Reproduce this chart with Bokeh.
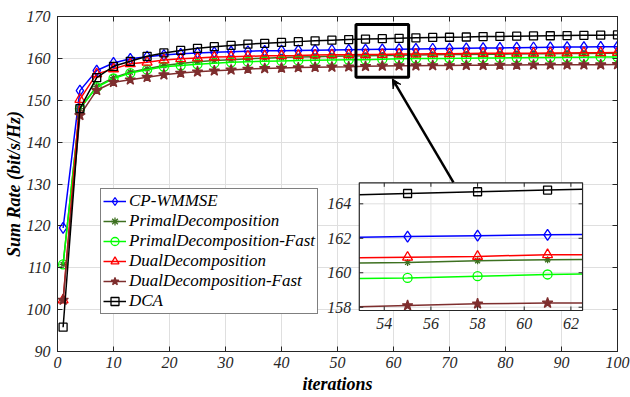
import numpy as np
from bokeh.plotting import figure
from bokeh.models import (Range1d, LinearAxis, Legend, LegendItem, Arrow, VeeHead,
                          FixedTicker)
from bokeh.core.properties import value
from bokeh.embed import file_html
from bokeh.resources import INLINE

# ---------------- data ----------------
iterations = list(range(1, 101, 3))

cp_wmmse = [119.5, 152.3, 157.1, 158.9, 159.9, 160.4, 160.8, 161.1, 161.3, 161.45,
            161.6, 161.7, 161.8, 161.85, 161.9, 161.95, 162.0, 162.05, 162.1, 162.15,
            162.2, 162.25, 162.3, 162.35, 162.4, 162.45, 162.5, 162.55, 162.6, 162.65,
            162.7, 162.7, 162.75, 162.8]
primal = [110.8, 148.0, 153.3, 155.4, 156.7, 157.5, 158.3, 158.8, 159.2, 159.5,
          159.7, 159.9, 160.05, 160.2, 160.3, 160.4, 160.5, 160.55, 160.6, 160.7,
          160.75, 160.8, 160.85, 160.9, 160.95, 161.0, 161.0, 161.05, 161.1, 161.1,
          161.15, 161.15, 161.2, 161.2]
primal_fast = [110.8, 148.0, 153.1, 155.2, 156.5, 157.3, 158.0, 158.3, 158.6, 158.85,
               159.05, 159.2, 159.3, 159.4, 159.5, 159.55, 159.6, 159.65, 159.7, 159.8,
               159.9, 159.95, 160.0, 160.0, 160.05, 160.1, 160.1, 160.15, 160.2, 160.2,
               160.25, 160.25, 160.3, 160.3]
dual = [102.3, 150.2, 156.3, 157.5, 158.7, 159.1, 159.6, 159.9, 160.1, 160.3,
        160.4, 160.5, 160.6, 160.65, 160.7, 160.8, 160.85, 160.85, 160.9, 160.95,
        161.05, 161.05, 161.1, 161.1, 161.15, 161.2, 161.2, 161.25, 161.25, 161.3,
        161.3, 161.35, 161.35, 161.4]
dual_fast = [102.3, 146.4, 152.4, 154.3, 154.9, 155.5, 156.1, 156.5, 156.8, 157.05,
             157.25, 157.45, 157.6, 157.7, 157.8, 157.9, 157.95, 158.0, 158.1, 158.2,
             158.25, 158.25, 158.3, 158.3, 158.35, 158.35, 158.4, 158.4, 158.45, 158.45,
             158.5, 158.5, 158.5, 158.55]
dca = [95.8, 148.0, 155.4, 158.1, 159.3, 160.5, 161.3, 161.9, 162.4, 162.8,
       163.1, 163.4, 163.6, 163.8, 164.0, 164.2, 164.35, 164.5, 164.6, 164.7,
       164.8, 164.9, 165.0, 165.05, 165.1, 165.2, 165.25, 165.3, 165.35, 165.4,
       165.45, 165.5, 165.55, 165.6]

series_names = ["CP-WMMSE", "PrimalDecomposition", "PrimalDecomposition-Fast",
                "DualDecomposition", "DualDecomposition-Fast", "DCA"]
series_values = [cp_wmmse, primal, primal_fast, dual, dual_fast, dca]

x_ticks = [0, 10, 20, 30, 40, 50, 60, 70, 80, 90, 100]
y_ticks = [90, 100, 110, 120, 130, 140, 150, 160, 170]
inset_x_ticks = [54, 56, 58, 60, 62]
inset_x_labels = ["54", "56", "58", "60", "62"]
inset_y_ticks = [158, 160, 162, 164]
inset_y_labels = ["158", "160", "162", "164"]

# ---------------- styles ----------------
colors = ["#0000ff", "#3d7020", "#00ff00", "#ff0000", "#7e2e2e", "#000000"]
markers = ["diamond", "asterisk", "circle", "triangle", "star", "square"]
msizes = [11, 7, 9, 10, 11, 8]
filled = [False, False, False, False, True, False]

FONT = "Liberation Serif"
AX = "#262626"
GRID = "#dfdfdf"

W, H = 630, 397
BL, BR, BT, BB = 56, 13, 16, 46
FRAME_W, FRAME_H = W - BL - BR, H - BT - BB
p = figure(width=W, height=H,
           x_range=Range1d(0, 100), y_range=Range1d(90, 170),
           output_backend="svg", toolbar_location=None,
           min_border_left=BL, min_border_right=BR, min_border_top=BT, min_border_bottom=BB)
p.background_fill_color = "white"
p.border_fill_color = "white"
p.outline_line_color = AX
p.outline_line_width = 1

for ax in (p.xaxis[0], p.yaxis[0]):
    ax.major_tick_in = 5
    ax.major_tick_out = 0
    ax.minor_tick_line_color = None
    ax.axis_line_color = AX
    ax.major_tick_line_color = AX
    ax.major_label_text_font = FONT
    ax.major_label_text_font_style = "italic"
    ax.major_label_text_font_size = "16px"
    ax.major_label_text_color = "#262626"
    ax.axis_label_text_font = FONT
    ax.axis_label_text_font_style = "bold italic"
    ax.axis_label_text_font_size = "18px"
    ax.axis_label_text_color = "#000000"

p.xaxis[0].ticker = FixedTicker(ticks=x_ticks)
p.yaxis[0].ticker = FixedTicker(ticks=y_ticks)
p.xaxis[0].axis_label = "iterations"
p.yaxis[0].axis_label = "Sum Rate (bit/s/Hz)"
p.xaxis[0].major_label_standoff = 5
p.xaxis[0].axis_label_standoff = 3
p.yaxis[0].major_label_standoff = 7
p.yaxis[0].axis_label_standoff = 0

# box-style ticks on top and right
for loc, tk in (("above", x_ticks), ("right", y_ticks)):
    a = LinearAxis(ticker=FixedTicker(ticks=tk), major_tick_in=5, major_tick_out=0,
                   minor_tick_line_color=None, axis_line_color=AX,
                   major_tick_line_color=AX, major_label_text_alpha=0,
                   major_label_text_font_size="1px", major_label_standoff=0)
    p.add_layout(a, loc)

p.grid.grid_line_color = GRID
p.grid.grid_line_width = 1
p.xgrid.ticker = FixedTicker(ticks=x_ticks)
p.ygrid.ticker = FixedTicker(ticks=y_ticks)

# ---------------- main series ----------------
legend_items = []
for name, vals, c, m, s, f in zip(series_names, series_values, colors, markers, msizes, filled):
    lr = p.line(iterations, vals, line_color=c, line_width=1.5)
    sr = p.scatter(iterations, vals, marker=m, size=s, line_color=c, line_width=1.3,
                   fill_color=c if f else None)
    legend_items.append(LegendItem(label=name, renderers=[lr, sr]))

# zoom box (annotation)
ZB = (53.3, 62.7, 155.5, 168.1)
p.quad(left=[ZB[0]], right=[ZB[1]], bottom=[ZB[2]], top=[ZB[3]],
       fill_color=None, line_color="black", line_width=3)

# ---------------- inset (drawn on extra ranges) ----------------
IX0, IX1 = 52.93, 62.5        # inset data window
IY0, IY1 = 157.81, 165.22
FL, FR = 0.5389, 0.9376       # inset position as fraction of main frame (from left)
FB, FT = 0.1224, 0.5036       # (from bottom)
ux = (IX1 - IX0) / (FR - FL)
uy = (IY1 - IY0) / (FT - FB)
p.extra_x_ranges = {"ix": Range1d(IX0 - FL * ux, IX1 + (1 - FR) * ux)}
p.extra_y_ranges = {"iy": Range1d(IY0 - FB * uy, IY1 + (1 - FT) * uy)}
kw = dict(x_range_name="ix", y_range_name="iy")
px_x = ux / FRAME_W   # data units per pixel
px_y = uy / FRAME_H

p.quad(left=[IX0], right=[IX1], bottom=[IY0], top=[IY1], fill_color="white",
       line_color=None, **kw)
# inset grid
p.segment(x0=inset_x_ticks, x1=inset_x_ticks, y0=[IY0] * len(inset_x_ticks),
          y1=[IY1] * len(inset_x_ticks), line_color=GRID, line_width=1, **kw)
p.segment(x0=[IX0] * len(inset_y_ticks), x1=[IX1] * len(inset_y_ticks),
          y0=inset_y_ticks, y1=inset_y_ticks, line_color=GRID, line_width=1, **kw)

it = np.asarray(iterations, float)
inside = (it > IX0) & (it < IX1)
for vals, c, m, s, f in zip(series_values, colors, markers, msizes, filled):
    v = np.asarray(vals, float)
    cx = np.concatenate([[IX0], it[inside], [IX1]])
    cy = np.interp(cx, it, v)
    p.line(cx, cy, line_color=c, line_width=1.5, **kw)
    p.scatter(it[inside], v[inside], marker=m, size=s, line_color=c, line_width=1.3,
              fill_color=c if f else None, **kw)

# inset ticks (inward)
tl = 4
nx, ny = len(inset_x_ticks), len(inset_y_ticks)
p.segment(x0=inset_x_ticks, x1=inset_x_ticks, y0=[IY0] * nx, y1=[IY0 + tl * px_y] * nx,
          line_color=AX, **kw)
p.segment(x0=inset_x_ticks, x1=inset_x_ticks, y0=[IY1] * nx, y1=[IY1 - tl * px_y] * nx,
          line_color=AX, **kw)
p.segment(x0=[IX0] * ny, x1=[IX0 + tl * px_x] * ny, y0=inset_y_ticks, y1=inset_y_ticks,
          line_color=AX, **kw)
p.segment(x0=[IX1] * ny, x1=[IX1 - tl * px_x] * ny, y0=inset_y_ticks, y1=inset_y_ticks,
          line_color=AX, **kw)
p.quad(left=[IX0], right=[IX1], bottom=[IY0], top=[IY1], fill_color=None,
       line_color=AX, line_width=1.2, **kw)

p.text(x=inset_x_ticks, y=[IY0] * nx, text=inset_x_labels, text_align="center",
       text_baseline="top", y_offset=8, text_font=value(FONT), text_font_style="italic",
       text_font_size="16px", text_color="#262626", **kw)
p.text(x=[IX0] * ny, y=inset_y_ticks, text=inset_y_labels, text_align="right",
       text_baseline="middle", x_offset=-8, text_font=value(FONT), text_font_style="italic",
       text_font_size="16px", text_color="#262626", **kw)

# arrow from inset to zoom box
p.add_layout(Arrow(end=VeeHead(size=9, fill_color="black", line_color="black", line_width=1),
                   x_start=70.7, y_start=130.4, x_end=59.8, y_end=155.1,
                   line_color="black", line_width=2.5))

# ---------------- legend ----------------
legend = Legend(items=legend_items, location=(43, 37), orientation="vertical",
                label_text_font=FONT, label_text_font_style="italic",
                label_text_font_size="17px", label_text_color="black",
                border_line_color="black", border_line_width=1,
                background_fill_color="white", background_fill_alpha=1,
                padding=2, spacing=0, margin=0, label_height=20, glyph_height=20,
                glyph_width=23, label_standoff=3)
p.add_layout(legend, "center")

open("out.html", "w").write(file_html(p, INLINE))
